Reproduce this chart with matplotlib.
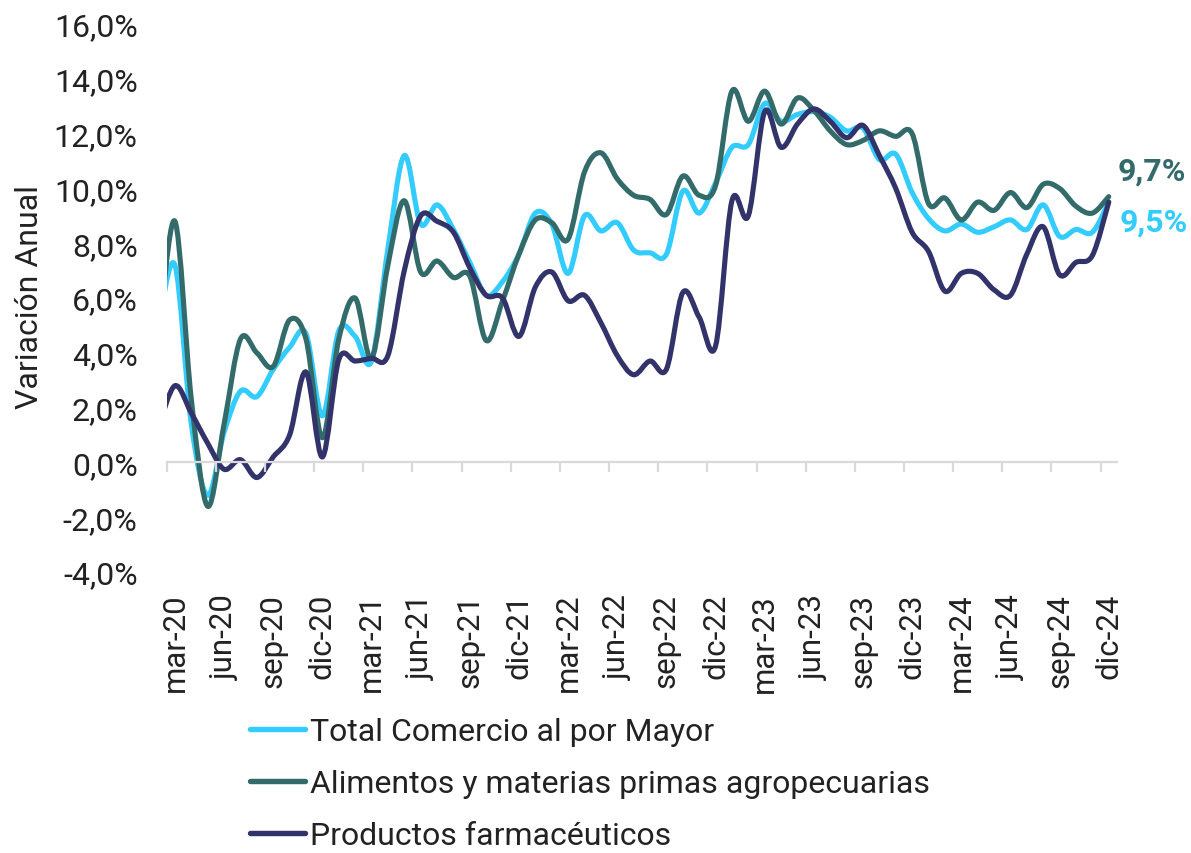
import numpy as np
import matplotlib.pyplot as plt
from matplotlib.path import Path
from matplotlib.patches import PathPatch
from matplotlib.lines import Line2D

plt.rcParams['font.family'] = ['Roboto', 'DejaVu Sans']

meses = ['ene', 'feb', 'mar', 'abr', 'may', 'jun', 'jul', 'ago', 'sep', 'oct', 'nov', 'dic']
periodos = [f'{m}-{a}' for a in range(20, 25) for m in meses][1:]  # feb-20 .. dic-24

total = [5.0,
         7.2, 1.4, -1.2, 1.1, 2.6, 2.4, 3.4, 4.2, 4.7, 1.7,
         4.8, 4.6, 3.7, 7.8, 11.2, 8.7, 9.4, 8.5, 7.3, 6.1, 6.6, 7.6,
         9.1, 8.7, 6.9, 9.0, 8.45, 8.75, 7.75, 7.65, 7.6, 9.9, 9.1, 10.2,
         11.5, 11.6, 13.1, 12.45, 12.7, 12.8, 12.6, 12.1, 12.2, 11.05, 11.25, 9.85,
         8.9, 8.45, 8.7, 8.4, 8.6, 8.85, 8.5, 9.4, 8.25, 8.5, 8.4, 9.5]
alimentos = [4.5,
             8.8, 2.3, -1.6, 1.4, 4.5, 4.0, 3.5, 5.2, 4.5, 0.9,
             4.5, 6.0, 3.8, 7.2, 9.55, 6.95, 7.35, 6.75, 6.8, 4.45, 5.9, 7.6,
             8.85, 8.75, 8.15, 10.6, 11.3, 10.35, 9.75, 9.6, 9.05, 10.45, 9.75, 10.1,
             13.55, 12.45, 13.55, 12.35, 13.3, 12.85, 12.1, 11.6, 11.75, 12.1, 11.9, 12.0,
             9.45, 9.65, 8.85, 9.5, 9.2, 9.85, 9.3, 10.15, 10.0, 9.35, 9.1, 9.7]
farma = [1.3,
         2.8, 1.8, 0.7, -0.25, 0.1, -0.55, 0.2, 1.0, 3.3, 0.2,
         3.75, 3.7, 3.8, 3.9, 7.0, 9.0, 8.8, 8.4, 7.1, 6.1, 6.0, 4.6,
         6.4, 6.95, 5.9, 6.1, 5.1, 3.9, 3.2, 3.7, 3.4, 6.2, 5.3, 4.25,
         9.55, 9.0, 12.8, 11.5, 12.35, 12.9, 12.45, 11.85, 12.3, 11.2, 10.0, 8.4,
         7.7, 6.25, 6.9, 6.9, 6.3, 6.1, 7.6, 8.6, 6.85, 7.3, 7.55, 9.5]

series = [
    ('Total Comercio al por Mayor', total, '#33CCFF'),
    ('Alimentos y materias primas agropecuarias', alimentos, '#336B6B'),
    ('Productos farmacéuticos', farma, '#33336B'),
]
y_ticks = [-4, -2, 0, 2, 4, 6, 8, 10, 12, 14, 16]


def smooth_path(x, y):
    # Excel-style smoothed line: cubic Bezier through every point (Catmull-Rom)
    pts = np.column_stack([x, y]).astype(float)
    ext = np.vstack([pts[0], pts, pts[-1]])
    verts = [pts[0]]
    codes = [Path.MOVETO]
    for i in range(len(pts) - 1):
        p0, p1, p2, p3 = ext[i], ext[i + 1], ext[i + 2], ext[i + 3]
        verts += [p1 + (p2 - p0) / 6, p2 - (p3 - p1) / 6, p2]
        codes += [Path.CURVE4] * 3
    return Path(verts, codes)


fig = plt.figure(figsize=(11.91, 8.54), dpi=100)
ax = fig.add_axes([0.1400, 0.3290, 0.7978, 0.6417])

x = np.arange(len(periodos))
handles = []
for name, vals, col in series:
    ax.add_patch(PathPatch(smooth_path(x, vals), fill=False, edgecolor=col,
                           lw=3.7, capstyle='round', joinstyle='round'))
    handles.append(Line2D([], [], color=col, lw=3.9, solid_capstyle='round'))

ax.set_xlim(0.5, len(periodos) - 0.5)
ax.set_ylim(-4, 16)

# y axis
ax.set_yticks(y_ticks)
ax.set_yticklabels([f'{v:.1f}%'.replace('.', ',') for v in y_ticks])
ax.tick_params(axis='y', length=0, pad=21, labelsize=23, labelcolor='#222222')
for s in ['left', 'right', 'top']:
    ax.spines[s].set_visible(False)

# category axis crossing at 0, ticks between categories
ax.spines['bottom'].set_position(('data', 0))
ax.spines['bottom'].set_color('#D9D9D9')
ax.spines['bottom'].set_linewidth(1.6)
ax.set_xticks(np.arange(0.5, len(periodos), 3))
ax.tick_params(axis='x', direction='out', length=7, width=1.6, color='#D9D9D9',
               labelbottom=False)

lab_idx = list(range(1, len(periodos), 3))
sec = ax.secondary_xaxis('bottom')
sec.set_xticks(lab_idx)
sec.set_xticklabels([periodos[i] for i in lab_idx], rotation=90)
sec.tick_params(length=0, pad=15, labelsize=22.5, labelcolor='#222222')
sec.spines['bottom'].set_visible(False)

fig.text(30 / 1191, 1 - 297 / 854, 'Variación Anual', rotation=90,
         ha='center', va='center', fontsize=23, color='#222222')

# end-of-series labels
ax.annotate(f'{alimentos[-1]:.1f}%'.replace('.', ','), (x[-1], alimentos[-1]),
            xytext=(6.5, 19), textcoords='offset points', ha='left', va='center',
            fontsize=23, fontweight='bold', color='#336B6B', annotation_clip=False)
ax.annotate(f'{total[-1]:.1f}%'.replace('.', ','), (x[-1], total[-1]),
            xytext=(8, -14), textcoords='offset points', ha='left', va='center',
            fontsize=23, fontweight='bold', color='#33CCFF', annotation_clip=False)

fig.legend(handles, [s[0] for s in series], loc='upper left',
           bbox_to_anchor=(250 / 1191, 1 - 718 / 854), frameon=False,
           fontsize=23, handlelength=1.72, handletextpad=0.16,
           labelspacing=0.72, borderpad=0, borderaxespad=0, labelcolor='#222222')

fig.savefig('out.png', dpi=100)
